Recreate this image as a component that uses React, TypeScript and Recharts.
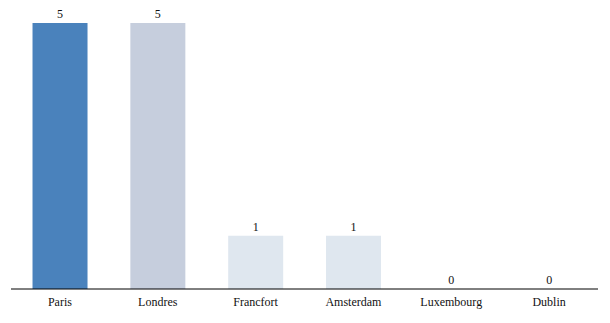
import React from 'react';
import { BarChart, Bar, XAxis, YAxis, Cell, LabelList } from 'recharts';

const categories = ['Paris', 'Londres', 'Francfort', 'Amsterdam', 'Luxembourg', 'Dublin'];
const values = [5, 5, 1, 1, 0, 0];
const colors = ['#4a82bc', '#c6cedd', '#dfe7ef', '#dfe7ef', '#dfe7ef', '#dfe7ef'];

const data = categories.map((name, i) => ({ name, value: values[i] }));

const font = '"Liberation Serif", "DejaVu Serif", serif';

export default function App() {
  return (
    <div style={{ position: 'absolute', left: 0, top: 0, width: 610, height: 323, background: '#fff' }}>
      <BarChart width={610} height={323} data={data} margin={{ top: 23, right: 12, bottom: 4, left: 11 }} barCategoryGap="22%">
        <XAxis
          dataKey="name"
          tickLine={false}
          axisLine={{ stroke: '#000', strokeWidth: 1 }}
          tick={{ fill: '#111', fontSize: 12, fontFamily: font }}
          height={30}
          interval={0}
        />
        <YAxis hide domain={[0, 5]} />
        <Bar dataKey="value" isAnimationActive={false} minPointSize={0.01}>
          {data.map((d, i) => (
            <Cell key={d.name} fill={colors[i]} />
          ))}
          <LabelList dataKey="value" position="top" style={{ fill: '#111', fontSize: 12, fontFamily: font }} />
        </Bar>
      </BarChart>
    </div>
  );
}
